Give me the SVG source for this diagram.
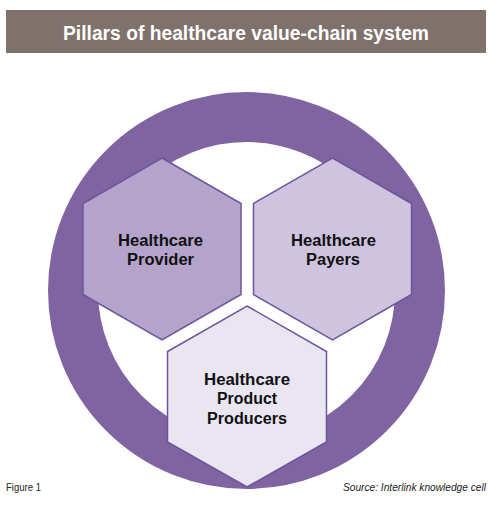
<svg xmlns="http://www.w3.org/2000/svg" width="500" height="513" viewBox="0 0 500 513">
<style>
.hex{stroke:#6c559c;stroke-width:1.5;stroke-linejoin:miter}
.lbl{font-family:"Liberation Sans",Arial,sans-serif;font-weight:bold;font-size:17.4px;fill:#111;text-anchor:middle}
.cap{font-family:"Liberation Sans",Arial,sans-serif;font-size:11px;fill:#222}
</style>
<rect width="500" height="513" fill="#ffffff"/>
<g id="title">
<rect x="6" y="10" width="480" height="43" fill="#7f716b"/>
<text x="246" y="40" font-family="Liberation Sans,Arial,sans-serif" font-weight="bold" font-size="19.5" fill="#ffffff" text-anchor="middle" textLength="366" lengthAdjust="spacingAndGlyphs">Pillars of healthcare value-chain system</text>
</g>
<g id="ring">
<circle cx="246.5" cy="290.5" r="173.5" fill="none" stroke="#8064a2" stroke-width="50"/>
</g>
<g id="provider">
<polygon class="hex" fill="#b4a3ca" points="162,158 241,203.5 241,294.5 162,340 83,294.5 83,203.5"/>
<text class="lbl" x="160.5" y="245.5" textLength="85" lengthAdjust="spacingAndGlyphs">Healthcare</text>
<text class="lbl" x="160.5" y="265" textLength="67" lengthAdjust="spacingAndGlyphs">Provider</text>
</g>
<g id="payers">
<polygon class="hex" fill="#cfc4df" points="332.5,158 411.5,203.5 411.5,294.5 332.5,340 253.5,294.5 253.5,203.5"/>
<text class="lbl" x="333.5" y="245.5" textLength="85" lengthAdjust="spacingAndGlyphs">Healthcare</text>
<text class="lbl" x="333" y="265" textLength="54" lengthAdjust="spacingAndGlyphs">Payers</text>
</g>
<g id="producers">
<polygon class="hex" fill="#e9e5f1" points="247,306 326.5,351.5 326.5,442 247,487 167.5,442 167.5,351.5"/>
<text class="lbl" x="247" y="384.5" textLength="86" lengthAdjust="spacingAndGlyphs">Healthcare</text>
<text class="lbl" x="247" y="404" textLength="60" lengthAdjust="spacingAndGlyphs">Product</text>
<text class="lbl" x="247" y="423.5" textLength="80" lengthAdjust="spacingAndGlyphs">Producers</text>
</g>
<g id="connectors"></g>
<text class="cap" x="6" y="491" textLength="35" lengthAdjust="spacingAndGlyphs">Figure 1</text>
<text class="cap" x="486" y="491" font-style="italic" text-anchor="end" textLength="143" lengthAdjust="spacingAndGlyphs">Source: Interlink knowledge cell</text>
</svg>
